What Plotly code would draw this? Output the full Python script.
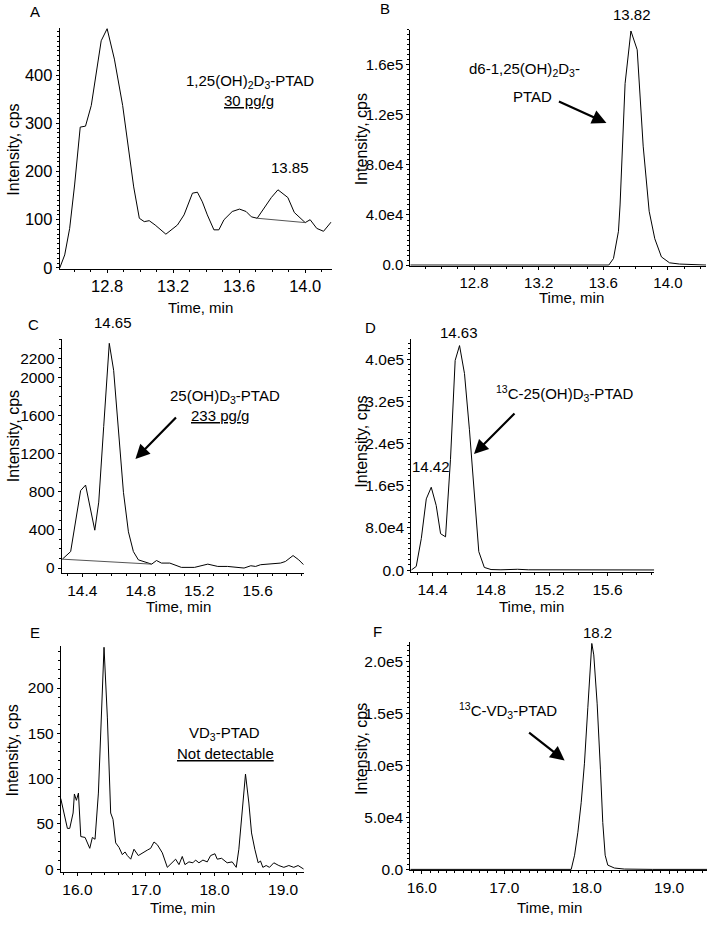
import plotly.graph_objects as go

W, H = 708, 927

# ---------------- DATA ----------------
# Panel A: 1,25(OH)2D3-PTAD
a_time = [12.513, 12.543, 12.573, 12.603, 12.637, 12.669, 12.704, 12.764, 12.80, 12.844, 12.894, 12.925,
          12.961, 12.995, 13.025, 13.055, 13.091, 13.156, 13.196, 13.226, 13.266, 13.317, 13.347, 13.377,
          13.407, 13.447, 13.477, 13.508, 13.558, 13.602, 13.642, 13.674, 13.709, 13.759, 13.795, 13.835,
          13.895, 13.934, 14.0, 14.03, 14.07, 14.111, 14.157]
a_int = [0, 27, 82, 172, 292, 294, 337, 471, 496, 433, 337, 254,
         168, 103, 96, 98, 89, 70, 82, 89, 110, 155, 157, 137,
         110, 79, 79, 100, 117, 122, 117, 106, 103, 127, 146, 162,
         146, 115, 94, 100, 82, 76, 95]
a_base_time = [13.709, 14.0]
a_base_int = [103, 94]

# Panel B: d6-1,25(OH)2D3-PTAD
b_time = [12.405, 13.0, 13.5, 13.634, 13.663, 13.694, 13.704, 13.735, 13.771, 13.81, 13.847, 13.884,
          13.919, 13.96, 14.01, 14.072, 14.236]
b_int = [0, 0, 0, 0, 5.2e3, 27e3, 48e3, 145e3, 187e3, 172e3, 95e3, 43e3,
         21e3, 6.5e3, 1.8e3, 0.8e3, 0]

# Panel C: 25(OH)D3-PTAD
c_time = [14.264, 14.321, 14.389, 14.423, 14.486, 14.513, 14.547, 14.585, 14.615, 14.649, 14.682, 14.716,
          14.750, 14.784, 14.841, 14.875, 14.908, 14.942, 14.999, 15.078, 15.168, 15.259, 15.327, 15.394,
          15.507, 15.553, 15.586, 15.620, 15.756, 15.790, 15.842, 15.881, 15.914]
c_int = [93, 173, 812, 870, 397, 691, 1485, 2356, 2073, 1451, 794, 380,
         173, 86, 62, 41, 79, 52, 52, 7, 7, 41, 17, 17,
         0, 24, 17, 35, 52, 69, 131, 86, 35]
c_base_time = [14.264, 14.875]
c_base_int = [93, 41]

# Panel D: 13C-25(OH)D3-PTAD
d_time = [14.254, 14.288, 14.323, 14.357, 14.391, 14.425, 14.455, 14.489, 14.523, 14.555, 14.585, 14.619,
          14.653, 14.687, 14.717, 14.755, 14.801, 14.869, 14.983, 15.056, 15.3, 15.6, 15.92]
d_int = [0, 6.9e3, 60e3, 135e3, 157e3, 122.5e3, 69e3, 63e3, 210e3, 397.5e3, 425.6e3, 372.5e3,
         266e3, 135e3, 35e3, 5e3, 1e3, 0.5e3, 1.5e3, 0.5e3, 0.3e3, 0.3e3, 0.2e3]

# Panel E: VD3-PTAD
e_time = [15.757, 15.806, 15.854, 15.888, 15.937, 15.956, 15.985, 16.015, 16.049, 16.112, 16.180, 16.218,
          16.257, 16.306, 16.354, 16.388, 16.437, 16.485, 16.519, 16.558, 16.607, 16.655, 16.694, 16.728,
          16.777, 16.825, 16.888, 16.947, 17.019, 17.068, 17.117, 17.165, 17.238, 17.311, 17.383, 17.432,
          17.481, 17.529, 17.568, 17.626, 17.684, 17.723, 17.772, 17.830, 17.893, 17.942, 18.005, 18.039,
          18.102, 18.184, 18.257, 18.316, 18.354, 18.403, 18.451, 18.500, 18.539, 18.587, 18.636, 18.670,
          18.704, 18.752, 18.801, 18.864, 18.937, 19.010, 19.083, 19.155, 19.218, 19.301]
e_int = [78, 62, 45, 45, 62, 83, 76, 84, 36, 35, 23, 35,
         33, 84, 185, 245, 167, 62, 55, 29, 24, 16, 19, 15,
         11, 22, 15, 18, 21, 23, 30, 27, 18, 2, 7, 11,
         5, 14, 5, 8, 7, 10, 7, 10, 8, 15, 17, 11,
         12, 7, 8, 2, 22, 65, 105, 73, 40, 22, 7, 9,
         2, 4, 2, 7, 4, 2, 4, 2, 4, 0]

# Panel F: 13C-VD3-PTAD
f_time = [15.859, 16.5, 17.5, 17.812, 17.853, 17.893, 17.933, 17.973, 18.014, 18.046, 18.062, 18.086,
          18.127, 18.167, 18.195, 18.224, 18.256, 18.336, 18.457, 18.8, 19.46]
f_int = [0, 0, 0, 0, 13.6e3, 35.7e3, 64e3, 102e3, 155.7e3, 206e3, 217e3, 206e3,
         159e3, 95.6e3, 45e3, 13.6e3, 4.1e3, 1.3e3, 0.3e3, 0, 0]

# Tick labels
ab_xticks = [12.8, 13.2, 13.6, 14.0]
cd_xticks = [14.4, 14.8, 15.2, 15.6]
ef_xticks = [16.0, 17.0, 18.0, 19.0]
a_yticks = [0, 100, 200, 300, 400]
b_yticks = [0, 4e4, 8e4, 1.2e5, 1.6e5]
b_ylabels = ["0.0", "4.0e4", "8.0e4", "1.2e5", "1.6e5"]
c_yticks = [0, 400, 800, 1200, 1600, 2000, 2200]
d_yticks = [0, 8e4, 1.6e5, 2.4e5, 3.2e5, 4.0e5]
d_ylabels = ["0.0", "8.0e4", "1.6e5", "2.4e5", "3.2e5", "4.0e5"]
e_yticks = [0, 50, 100, 150, 200]
f_yticks = [0, 5e4, 1e5, 1.5e5, 2e5]
f_ylabels = ["0.0", "5.0e4", "1.0e5", "1.5e5", "2.0e5"]

FONT = "Liberation Sans, Arial, sans-serif"

fig = go.Figure()

# panel geometry in pixels: left, right, top, bottom
panels = {
    "A": dict(px=(57, 330, 28, 271), xr=[12.513, 14.16], yr=[-1.5, 498]),
    "B": dict(px=(409, 706, 30, 268), xr=[12.405, 14.236], yr=[-500, 188e3]),
    "C": dict(px=(59, 302, 342, 578), xr=[14.26, 15.915], yr=[-52, 2401]),
    "D": dict(px=(410, 654, 342, 577), xr=[14.254, 15.92], yr=[-3.7e3, 438e3]),
    "E": dict(px=(58, 302, 652, 880), xr=[15.757, 19.30], yr=[-3.6, 246]),
    "F": dict(px=(409, 707, 648, 878), xr=[15.859, 19.46], yr=[-1e3, 218e3]),
}

series = {
    "A": (a_time, a_int), "B": (b_time, b_int), "C": (c_time, c_int),
    "D": (d_time, d_int), "E": (e_time, e_int), "F": (f_time, f_int),
}
xticks = {"A": ab_xticks, "B": ab_xticks, "C": cd_xticks, "D": cd_xticks, "E": ef_xticks, "F": ef_xticks}
xminor = {"A": 0.1, "B": 0.1, "C": 0.1, "D": 0.1, "E": 0.2, "F": 0.1}
yticks = {"A": (a_yticks, [str(v) for v in a_yticks]), "B": (b_yticks, b_ylabels),
          "C": (c_yticks, [str(v) for v in c_yticks]), "D": (d_yticks, d_ylabels),
          "E": (e_yticks, [str(v) for v in e_yticks]), "F": (f_yticks, f_ylabels)}
yminor = {"A": 10, "B": 4e3, "C": 100, "D": 1e4, "E": 10, "F": 5e3}
tickfs = {"A": 16.5, "B": 15, "C": 15.5, "D": 15.5, "E": 15.5, "F": 15.5}

for i, key in enumerate(["A", "B", "C", "D", "E", "F"]):
    n = "" if i == 0 else str(i + 1)
    p = panels[key]
    l, r, t, b = p["px"]
    xa = "xaxis" + n
    ya = "yaxis" + n
    t_, v_ = series[key]
    fig.add_trace(go.Scatter(x=t_, y=v_, mode="lines", line=dict(color="black", width=1),
                             xaxis="x" + n, yaxis="y" + n, showlegend=False, hoverinfo="skip"))
    fig.layout[xa] = dict(
        domain=[l / W, r / W], range=p["xr"], anchor="y" + n,
        showline=True, linecolor="black", linewidth=1, showgrid=False, zeroline=False,
        tickmode="array", tickvals=xticks[key], ticktext=[f"{v:.1f}" for v in xticks[key]],
        ticks="outside", ticklen=3, tickcolor="black",
        tickfont=dict(family=FONT, size=tickfs[key], color="black"),
        minor=dict(ticks="outside", ticklen=2, tickcolor="black", dtick=xminor[key], tick0=0, showgrid=False),
    )
    tv, tt = yticks[key]
    fig.layout[ya] = dict(
        domain=[1 - b / H, 1 - t / H], range=p["yr"], anchor="x" + n,
        showline=True, linecolor="black", linewidth=1, showgrid=False, zeroline=False,
        tickmode="array", tickvals=tv, ticktext=tt,
        ticks="outside", ticklen=3, tickcolor="black",
        tickfont=dict(family=FONT, size=tickfs[key], color="black"),
        minor=dict(ticks="outside", ticklen=2, tickcolor="black", dtick=yminor[key], tick0=0, showgrid=False),
    )

# integration baselines
fig.add_trace(go.Scatter(x=a_base_time, y=a_base_int, mode="lines", line=dict(color="#555", width=1),
                         xaxis="x", yaxis="y", showlegend=False, hoverinfo="skip"))
fig.add_trace(go.Scatter(x=c_base_time, y=c_base_int, mode="lines", line=dict(color="#555", width=1),
                         xaxis="x3", yaxis="y3", showlegend=False, hoverinfo="skip"))

ann = []


def txt(x, y, s, size=15, angle=0):
    ann.append(dict(x=x / W, y=1 - y / H, xref="paper", yref="paper", text=s, showarrow=False,
                    xanchor="center", yanchor="middle", textangle=angle,
                    font=dict(family=FONT, size=size, color="black")))


def arrow(tx, ty, hx, hy):
    ann.append(dict(x=hx / W, y=1 - hy / H, xref="paper", yref="paper", text="",
                    showarrow=True, ax=tx - hx, ay=ty - hy, axref="pixel", ayref="pixel",
                    arrowhead=2, arrowsize=1.3, arrowwidth=2.2, arrowcolor="black"))


# panel letters
for s, x, y in [("A", 32, 12), ("B", 384, 9), ("C", 31, 327), ("D", 369, 330), ("E", 32, 638), ("F", 376, 637)]:
    txt(x, y, s, 15)

# axis titles
for x, y in [(198, 310), (571, 300), (176, 612), (531, 612), (180, 915), (549, 915)]:
    txt(x, y, "Time, min", 15)
for x, y in [(11, 151), (360, 140), (10, 440), (360, 445), (10, 757), (360, 755)]:
    txt(x, y, "Intensity, cps", 16, -90)

# A
txt(248, 82, "1,25(OH)<sub>2</sub>D<sub>3</sub>-PTAD")
txt(247, 101, "<u>30 pg/g</u>")
txt(288, 169, "13.85")
# B
txt(524, 70, "d6-1,25(OH)<sub>2</sub>D<sub>3</sub>-")
txt(532, 97, "PTAD")
txt(632, 15, "13.82")
arrow(557, 102, 606, 124)
# C
txt(223, 400, "25(OH)D<sub>3</sub>-PTAD")
txt(218, 419, "<u>233 pg/g</u>")
txt(110, 325, "14.65")
arrow(175, 420, 133, 463)
# D
txt(564, 397, "<sup>13</sup>C-25(OH)D<sub>3</sub>-PTAD")
txt(458, 335, "14.63")
txt(430, 471, "14.42")
arrow(515, 416, 473, 458)
# E
txt(222, 740, "VD<sub>3</sub>-PTAD")
txt(223, 760, "<u>Not detectable</u>")
# F
txt(507, 717, "<sup>13</sup>C-VD<sub>3</sub>-PTAD")
txt(597, 638, "18.2")
arrow(527, 738, 564, 767)

fig.update_layout(width=W, height=H, margin=dict(l=0, r=0, t=0, b=0),
                  paper_bgcolor="white", plot_bgcolor="white", annotations=ann,
                  font=dict(family=FONT, color="black"))

fig.write_html("out.html", config={"displayModeBar": False},
               post_script="document.body.style.margin='0';document.body.style.padding='0';")
